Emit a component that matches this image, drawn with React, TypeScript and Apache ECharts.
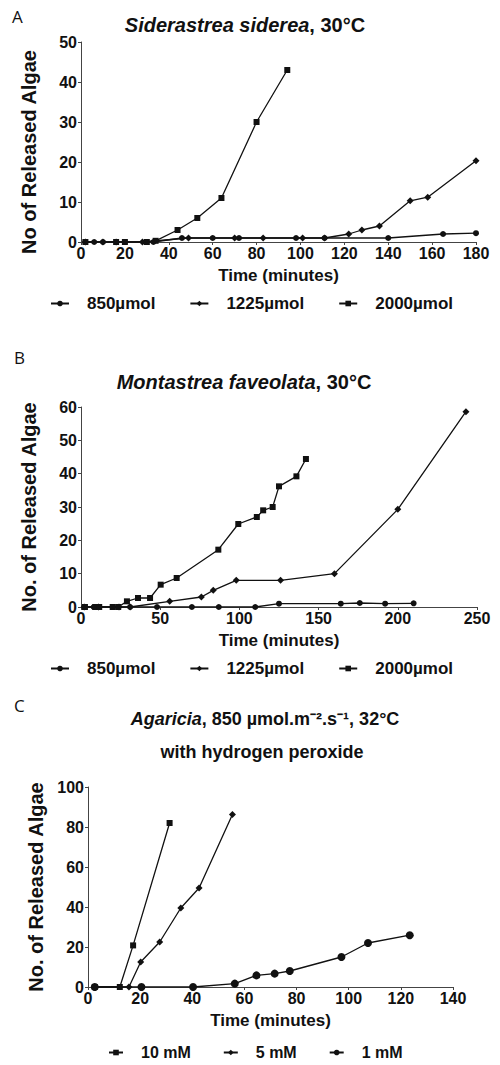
import React, { useEffect, useRef } from "react";
import * as echarts from "echarts";

// Panel A: Siderastrea siderea, 30°C
const A_850: number[][] = [[2,0],[6,0],[10,0],[20,0],[33,0],[46,1],[60,1],[72,1],[98,1],[111,1],[140,1],[165,2],[180,2.2]];
const A_1225: number[][] = [[2,0],[10,0],[16,0],[28,0],[49,1],[70,1],[83,1],[101,1],[111,1],[122,2],[128,3],[136,4],[150,10.3],[158,11.2],[180,20.3]];
const A_2000: number[][] = [[2,0],[16,0],[20,0],[30,0],[34,0.3],[44,3],[53,6],[64,11],[80,30],[94,43]];

// Panel B: Montastrea faveolata, 30°C
const B_850: number[][] = [[2,0],[8,0],[20,0],[31,0],[48,0],[70,0],[87,0],[110,0],[125,1],[164,1],[176,1.2],[192,1],[210,1.1]];
const B_1225: number[][] = [[2,0],[11,0],[24,0],[31,0],[56,1.7],[76,3],[83.5,5],[98,8],[126,8],[160,10],[200,29.3],[243,58.6]];
const B_2000: number[][] = [[2.5,0],[9,0],[11.5,0],[20,0],[23.5,0],[29,1.7],[36,2.7],[43.6,2.7],[50.3,6.7],[60.4,8.7],[86.7,17.2],[99.3,24.9],[111,27],[115,29],[121,30],[125,36.2],[136,39.2],[142,44.4]];

// Panel C: Agaricia with hydrogen peroxide
const C_10: number[][] = [[2.6,0],[12.2,0],[17.3,20.8],[31.3,82]];
const C_5: number[][] = [[2.6,0],[15.7,0],[20.2,12.5],[27.5,22.5],[35.6,39.5],[42.6,49.5],[55.4,86.3]];
const C_1: number[][] = [[2.6,0],[20.5,0],[40.3,0],[56.3,1.7],[64.6,5.8],[71.6,6.7],[77.4,8],[97.2,15],[107.4,22],[123.4,25.9]];

const NAMES_AB = ["850µmol", "1225µmol", "2000µmol"];
const NAMES_C = ["10 mM", "5 mM", "1 mM"];

const AXIS_X = [
  { max: 180, interval: 20 },
  { max: 250, interval: 50 },
  { max: 140, interval: 20 },
];
const AXIS_Y = [
  { max: 50, interval: 10, name: "No of Released Algae" },
  { max: 60, interval: 10, name: "No. of Released Algae" },
  { max: 100, interval: 20, name: "No. of Released Algae" },
];

const FONT = "'Liberation Sans', Arial, sans-serif";
const INK = "#111";

export default function App() {
  const ref = useRef<HTMLDivElement>(null);
  useEffect(() => {
    if (!ref.current) return;
    const chart = echarts.init(ref.current, undefined, { renderer: "svg" });

    const grids = [
      { left: 81, top: 42, width: 395, height: 200 },
      { left: 81, top: 407, width: 396, height: 200 },
      { left: 88, top: 787, width: 365, height: 200 },
    ];

    const xAxes = AXIS_X.map((a, i) => ({
      type: "value",
      gridIndex: i,
      min: 0,
      max: a.max,
      interval: a.interval,
      name: "Time (minutes)",
      nameLocation: "middle",
      nameGap: 25,
      nameTextStyle: { fontFamily: FONT, fontWeight: "bold", fontSize: 17, color: INK },
      axisLine: { show: true, lineStyle: { color: "#444", width: 1 } },
      axisTick: { show: true, length: 3, lineStyle: { color: "#444" } },
      axisLabel: { fontFamily: FONT, fontWeight: "bold", fontSize: 16, color: INK, margin: 3 },
      splitLine: { show: false },
    }));

    const yAxes = AXIS_Y.map((a, i) => ({
      type: "value",
      gridIndex: i,
      min: 0,
      max: a.max,
      interval: a.interval,
      name: a.name,
      nameLocation: "middle",
      nameGap: 42,
      nameTextStyle: {
        fontFamily: FONT,
        fontWeight: "bold",
        fontSize: 20,
        color: INK,
        padding: i === 0 ? [0, 20, 0, 0] : [0, 0, 0, 0],
      },
      axisLine: { show: true, lineStyle: { color: "#444", width: 1 } },
      axisTick: { show: true, length: 3, lineStyle: { color: "#444" } },
      axisLabel: { fontFamily: FONT, fontWeight: "bold", fontSize: 16, color: INK, margin: 4 },
      splitLine: { show: false },
    }));

    const mk = (name: string, data: number[][], idx: number, symbol: string, size: number) => ({
      type: "line",
      name,
      xAxisIndex: idx,
      yAxisIndex: idx,
      data,
      symbol,
      symbolSize: size,
      showSymbol: true,
      lineStyle: { color: INK, width: 1.3 },
      itemStyle: { color: INK },
      z: 3,
    });

    const series = [
      mk(NAMES_AB[0], A_850, 0, "circle", 6),
      mk(NAMES_AB[1], A_1225, 0, "diamond", 7),
      mk(NAMES_AB[2], A_2000, 0, "rect", 6),
      mk(NAMES_AB[0], B_850, 1, "circle", 6),
      mk(NAMES_AB[1], B_1225, 1, "diamond", 7),
      mk(NAMES_AB[2], B_2000, 1, "rect", 6),
      mk(NAMES_C[0], C_10, 2, "rect", 6),
      mk(NAMES_C[1], C_5, 2, "diamond", 7),
      mk(NAMES_C[2], C_1, 2, "circle", 8),
    ];

    const legendBase = {
      orient: "horizontal",
      itemWidth: 18,
      itemHeight: 7,
      padding: 0,
      selectedMode: false,
      textStyle: { fontFamily: FONT, fontWeight: "bold", fontSize: 17, color: INK, padding: [0, 0, 0, 13] },
    };

    const titleText = (x: number, y: number, text: string, size: number) => ({
      type: "text",
      x,
      y,
      style: {
        text,
        align: "center",
        verticalAlign: "middle",
        fill: INK,
        rich: {
          i: { fontFamily: FONT, fontWeight: "bold", fontStyle: "italic", fontSize: size, fill: INK },
          n: { fontFamily: FONT, fontWeight: "bold", fontSize: size, fill: INK },
        },
      },
    });

    const letter = (x: number, y: number, text: string) => ({
      type: "text",
      x,
      y,
      style: { text, fontFamily: "'Open Sans', sans-serif", fontSize: 17, fill: INK, verticalAlign: "middle" },
    });

    chart.setOption({
      animation: false,
      backgroundColor: "#fff",
      grid: grids,
      xAxis: xAxes,
      yAxis: yAxes,
      series,
      legend: [
        { ...legendBase, data: NAMES_AB, left: 50, top: 295, itemGap: 34 },
        { ...legendBase, data: NAMES_AB, left: 50, top: 660, itemGap: 34 },
        {
          ...legendBase,
          data: NAMES_C,
          left: 108,
          top: 1044,
          itemWidth: 14,
          itemGap: 32,
          textStyle: { ...legendBase.textStyle, fontSize: 16, lineHeight: 17 },
        },
      ],
      graphic: [
        letter(12, 16, "A"),
        letter(14, 357, "B"),
        letter(14, 705, "C"),
        titleText(245, 25, "{i|Siderastrea siderea}{n|, 30°C}", 20),
        titleText(244, 382, "{i|Montastrea faveolata}{n|, 30°C}", 20),
        titleText(265, 719, "{i|Agaricia}{n|, 850 µmol.m⁻².s⁻¹, 32°C}", 18),
        titleText(262, 752, "{n|with hydrogen peroxide}", 18),
      ],
    });
    return () => chart.dispose();
  }, []);
  return (
    <div
      ref={ref}
      style={{ position: "absolute", left: 0, top: 0, width: 500, height: 1065, background: "#fff" }}
    />
  );
}
